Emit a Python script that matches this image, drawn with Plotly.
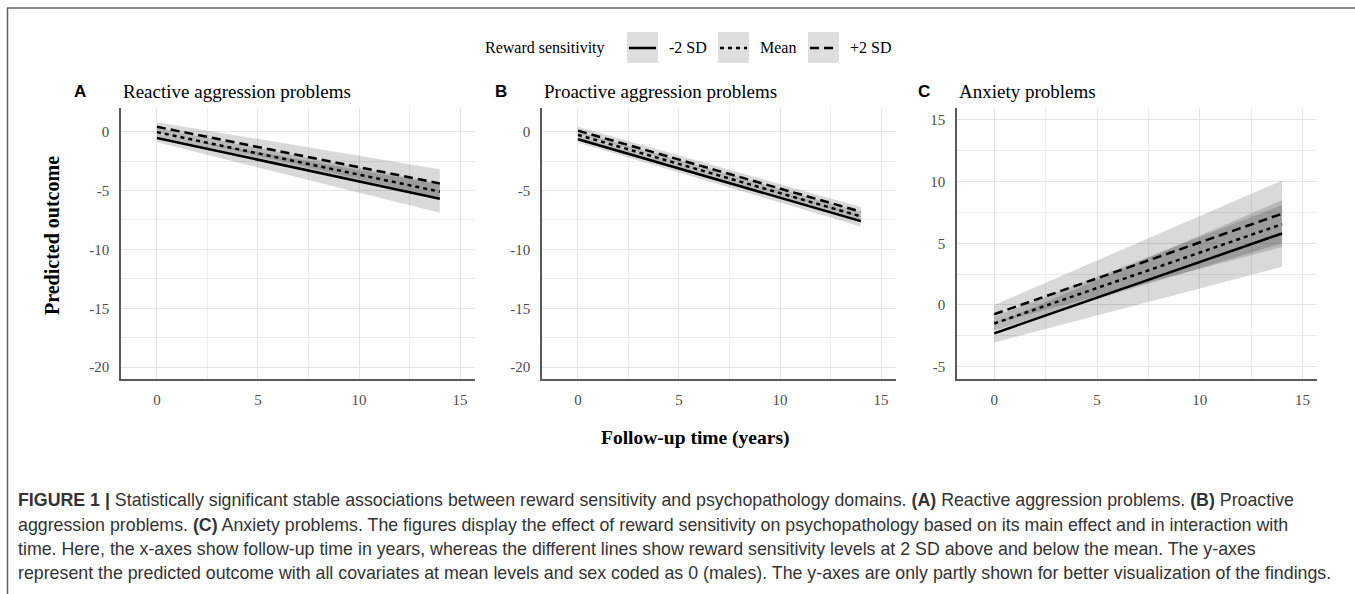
import plotly.graph_objects as go

W, H = 1355, 594

# ---------------- data ----------------
time_years = [0, 14]
levels = ["-2 SD", "Mean", "+2 SD"]
panel_letters = ["A", "B", "C"]
panel_titles = ["Reactive aggression problems", "Proactive aggression problems", "Anxiety problems"]

reactive_fit = [[-0.55, -5.7], [-0.05, -5.1], [0.4, -4.4]]
reactive_lower = [[-0.9, -6.9], [-0.4, -5.8], [-0.1, -5.6]]
reactive_upper = [[-0.2, -4.5], [0.3, -4.4], [0.8, -3.2]]

proactive_fit = [[-0.65, -7.6], [-0.28, -7.2], [0.08, -6.8]]
proactive_lower = [[-0.95, -8.05], [-0.55, -7.6], [-0.25, -7.25]]
proactive_upper = [[-0.35, -7.15], [0.0, -6.8], [0.4, -6.4]]

anxiety_fit = [[-2.3, 5.8], [-1.5, 6.55], [-0.75, 7.4]]
anxiety_lower = [[-3.05, 3.1], [-2.05, 5.0], [-1.5, 4.7]]
anxiety_upper = [[-1.55, 8.5], [-0.95, 8.1], [0.0, 10.1]]

x_ticks = [0, 5, 10, 15]
x_ticklabels = ["0", "5", "10", "15"]
y_ticks_aggr = [-20, -15, -10, -5, 0]
y_ticklabels_aggr = ["-20", "-15", "-10", "-5", "0"]
y_ticks_anx = [-5, 0, 5, 10, 15]
y_ticklabels_anx = ["-5", "0", "5", "10", "15"]

caption_lines = [
    "<b>FIGURE 1 |</b> Statistically significant stable associations between reward sensitivity and psychopathology domains. <b>(A)</b> Reactive aggression problems. <b>(B)</b> Proactive",
    "aggression problems. <b>(C)</b> Anxiety problems. The figures display the effect of reward sensitivity on psychopathology based on its main effect and in interaction with",
    "time. Here, the x-axes show follow-up time in years, whereas the different lines show reward sensitivity levels at 2 SD above and below the mean. The y-axes",
    "represent the predicted outcome with all covariates at mean levels and sex coded as 0 (males). The y-axes are only partly shown for better visualization of the findings.",
]

# ---------------- styling ----------------
dashes = ["solid", "4px,4px", "9px,5px"]
band_fill = "rgba(0,0,0,0.15)"
serif = "Liberation Serif"
sans = "Liberation Sans"

def px(x):
    return x / W

def py(y):
    return 1 - y / H

# panel geometry (pixels)
panels = [
    dict(x0=121, x1=475, xr=[-1.78, 15.74], yr=[-21.0, 2.0], yt=y_ticks_aggr, ytl=y_ticklabels_aggr,
         fit=reactive_fit, lo=reactive_lower, hi=reactive_upper, lx=72, tx=121),
    dict(x0=542, x1=896, xr=[-1.78, 15.74], yr=[-21.0, 2.0], yt=y_ticks_aggr, ytl=y_ticklabels_aggr,
         fit=proactive_fit, lo=proactive_lower, hi=proactive_upper, lx=493, tx=542),
    dict(x0=957, x1=1317, xr=[-1.81, 15.7], yr=[-6.0, 15.97], yt=y_ticks_anx, ytl=y_ticklabels_anx,
         fit=anxiety_fit, lo=anxiety_lower, hi=anxiety_upper, lx=916, tx=957),
]
ytop, ybot = 108, 379

fig = go.Figure()
layout = dict(
    width=W, height=H, margin=dict(l=0, r=0, t=0, b=0),
    paper_bgcolor="white", plot_bgcolor="white", showlegend=False,
    font=dict(family=serif, color="#4d4d4d"),
)

annotations = []
shapes = []

for i, p in enumerate(panels):
    n = "" if i == 0 else str(i + 1)
    xa, ya = "x" + n, "y" + n
    # ribbons
    for k in range(3):
        fig.add_trace(go.Scatter(x=time_years, y=p["lo"][k], mode="lines", line=dict(width=0),
                                 xaxis=xa, yaxis=ya, hoverinfo="skip"))
        fig.add_trace(go.Scatter(x=time_years, y=p["hi"][k], mode="lines", line=dict(width=0),
                                 fill="tonexty", fillcolor=band_fill,
                                 xaxis=xa, yaxis=ya, hoverinfo="skip"))
    # lines
    for k in range(3):
        fig.add_trace(go.Scatter(x=time_years, y=p["fit"][k], mode="lines", name=levels[k],
                                 line=dict(color="black", width=2.5, dash=dashes[k]),
                                 xaxis=xa, yaxis=ya))
    axis_common = dict(showline=True, linecolor="#595959", linewidth=1.6, zeroline=False,
                       showgrid=True, gridcolor="#e4e4e4", gridwidth=1, ticks="",
                       tickfont=dict(family=serif, size=15, color="#4d4d4d"))
    layout["xaxis" + n] = dict(axis_common, domain=[px(p["x0"]), px(p["x1"])], range=p["xr"],
                               tickvals=x_ticks, ticktext=x_ticklabels, anchor=ya,
                               minor=dict(tickvals=[2.5, 7.5, 12.5], showgrid=True, gridcolor="#ececec", gridwidth=1),
                               ticklabelstandoff=6)
    yminor = [v + 2.5 for v in p["yt"]] + [p["yt"][0] - 2.5]
    layout["yaxis" + n] = dict(axis_common, domain=[py(ybot), py(ytop)], range=p["yr"],
                               tickvals=p["yt"], ticktext=p["ytl"], anchor=xa,
                               minor=dict(tickvals=yminor, showgrid=True, gridcolor="#ececec", gridwidth=1),
                               ticklabelstandoff=7)
    annotations.append(dict(x=px(p["lx"]), y=py(91), xref="paper", yref="paper", xanchor="left",
                            yanchor="middle", showarrow=False, text="<b>" + panel_letters[i] + "</b>",
                            font=dict(family=sans, size=17, color="black")))
    annotations.append(dict(x=px(p["tx"]), y=py(92), xref="paper", yref="paper", xanchor="left",
                            yanchor="middle", showarrow=False, text=panel_titles[i],
                            font=dict(family=serif, size=19, color="black")))

# axis titles
annotations.append(dict(x=px(52), y=py(236), xref="paper", yref="paper", showarrow=False, textangle=-90,
                        xanchor="center", yanchor="middle",
                        text="<b>Predicted outcome</b>", font=dict(family=serif, size=20, color="black")))
annotations.append(dict(x=px(695), y=py(438), xref="paper", yref="paper", showarrow=False,
                        xanchor="center", yanchor="middle",
                        text="<b>Follow-up time (years)</b>", font=dict(family=serif, size=19.5, color="black")))

# legend (manual, top centre)
annotations.append(dict(x=px(483), y=py(48), xref="paper", yref="paper", xanchor="left", yanchor="middle",
                        showarrow=False, text="Reward sensitivity", font=dict(family=serif, size=16, color="black")))
key_x = [627, 718, 808]
for k in range(3):
    shapes.append(dict(type="rect", xref="paper", yref="paper", x0=px(key_x[k]), x1=px(key_x[k] + 31),
                       y0=py(63), y1=py(32), fillcolor="#dedede", line=dict(width=0), layer="below"))
    shapes.append(dict(type="line", xref="paper", yref="paper", x0=px(key_x[k] + 2), x1=px(key_x[k] + 29),
                       y0=py(48), y1=py(48), line=dict(color="black", width=2.5, dash=dashes[k])))
    annotations.append(dict(x=px(key_x[k] + 40), y=py(48), xref="paper", yref="paper", xanchor="left",
                            yanchor="middle", showarrow=False, text=levels[k],
                            font=dict(family=serif, size=16, color="black")))

# figure frame
shapes.append(dict(type="line", xref="paper", yref="paper", x0=px(7), x1=1.0, y0=py(8), y1=py(8),
                   line=dict(color="#606060", width=1.5)))
shapes.append(dict(type="line", xref="paper", yref="paper", x0=px(7.5), x1=px(7.5), y0=py(8), y1=0.0,
                   line=dict(color="#606060", width=1.5)))

# caption
cap_y = [500, 525, 549, 573]
for j, line in enumerate(caption_lines):
    annotations.append(dict(x=px(16), y=py(cap_y[j]), xref="paper", yref="paper", xanchor="left",
                            yanchor="middle", showarrow=False, text=line, align="left",
                            font=dict(family=sans, size=17.8, color="#333333")))

layout["annotations"] = annotations
layout["shapes"] = shapes
fig.update_layout(**layout)
fig.write_html("out.html", config={"displayModeBar": False},
               post_script="document.body.style.margin='0px';document.body.style.overflow='hidden';")
